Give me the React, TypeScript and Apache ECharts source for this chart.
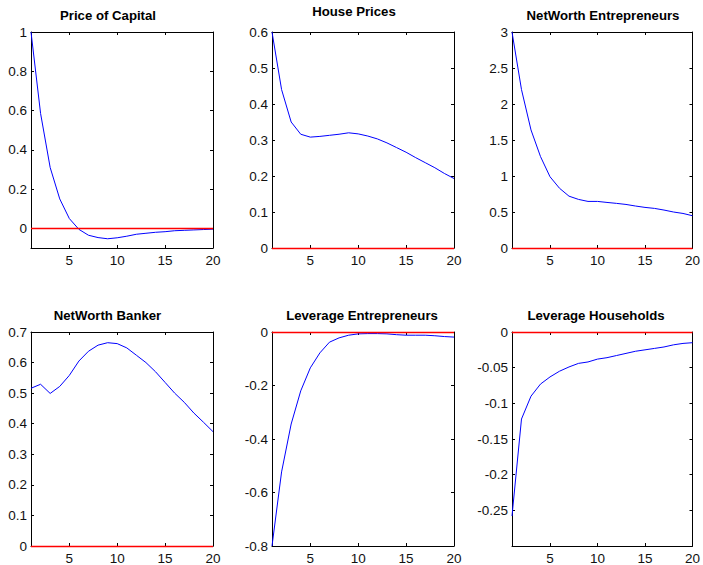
import React, { useEffect, useRef } from "react";
import * as echarts from "echarts";

const periods = [1, 2, 3, 4, 5, 6, 7, 8, 9, 10, 11, 12, 13, 14, 15, 16, 17, 18, 19, 20];

const priceOfCapital = [1.0, 0.585, 0.31, 0.15, 0.05, -0.005, -0.035, -0.047, -0.053, -0.048, -0.04, -0.03, -0.025, -0.02, -0.017, -0.012, -0.01, -0.008, -0.006, -0.004];
const housePrices = [0.6, 0.44, 0.35, 0.316, 0.308, 0.31, 0.313, 0.316, 0.32, 0.317, 0.311, 0.303, 0.292, 0.279, 0.266, 0.251, 0.237, 0.223, 0.207, 0.193];
const netWorthEntrepreneurs = [3.0, 2.2, 1.64, 1.27, 0.99, 0.83, 0.72, 0.675, 0.647, 0.647, 0.633, 0.62, 0.605, 0.583, 0.564, 0.55, 0.527, 0.5, 0.48, 0.448];
const netWorthBanker = [0.516, 0.529, 0.499, 0.522, 0.558, 0.605, 0.637, 0.657, 0.665, 0.662, 0.648, 0.624, 0.6, 0.57, 0.535, 0.5, 0.47, 0.435, 0.405, 0.374];
const leverageEntrepreneurs = [-0.8, -0.523, -0.344, -0.22, -0.134, -0.078, -0.038, -0.022, -0.012, -0.007, -0.006, -0.006, -0.007, -0.01, -0.012, -0.012, -0.012, -0.014, -0.017, -0.019];
const leverageHouseholds = [-0.258, -0.122, -0.09, -0.073, -0.063, -0.055, -0.049, -0.044, -0.042, -0.038, -0.036, -0.033, -0.03, -0.027, -0.025, -0.023, -0.021, -0.018, -0.016, -0.015];

const xTicks = [5, 10, 15, 20];
const yTicksPrice = [0, 0.2, 0.4, 0.6, 0.8, 1];
const yTicksHouse = [0, 0.1, 0.2, 0.3, 0.4, 0.5, 0.6];
const yTicksNWE = [0, 0.5, 1, 1.5, 2, 2.5, 3];
const yTicksNWB = [0, 0.1, 0.2, 0.3, 0.4, 0.5, 0.6, 0.7];
const yTicksLevE = [-0.8, -0.6, -0.4, -0.2, 0];
const yTicksLevH = [-0.25, -0.2, -0.15, -0.1, -0.05, 0];

const titles = [
  "Price of Capital",
  "House Prices",
  "NetWorth Entrepreneurs",
  "NetWorth Banker",
  "Leverage Entrepreneurs",
  "Leverage Households",
];

const panels = [
  { data: priceOfCapital, ticks: yTicksPrice, min: -0.1, max: 1 },
  { data: housePrices, ticks: yTicksHouse, min: 0, max: 0.6 },
  { data: netWorthEntrepreneurs, ticks: yTicksNWE, min: 0, max: 3 },
  { data: netWorthBanker, ticks: yTicksNWB, min: 0, max: 0.7 },
  { data: leverageEntrepreneurs, ticks: yTicksLevE, min: -0.8, max: 0 },
  { data: leverageHouseholds, ticks: yTicksLevH, min: -0.3, max: 0 },
];

const gridBoxes = [
  { left: 31, top: 32 },
  { left: 272, top: 32 },
  { left: 512, top: 32 },
  { left: 31, top: 332 },
  { left: 272, top: 332 },
  { left: 512, top: 332 },
];
const titlePos = [
  { x: 108, y: 9 },
  { x: 354, y: 5 },
  { x: 603, y: 9 },
  { x: 107.5, y: 309 },
  { x: 362, y: 309 },
  { x: 596, y: 309 },
];

export default function App() {
  const ref = useRef<HTMLDivElement>(null);
  useEffect(() => {
    if (!ref.current) return;
    const chart = echarts.init(ref.current, undefined, { renderer: "svg" });
    const font = "Arial, 'Liberation Sans', sans-serif";
    const axisLine = { show: true, onZero: false, lineStyle: { color: "#000", width: 1 } };
    const grids: any[] = [];
    const xAxes: any[] = [];
    const yAxes: any[] = [];
    const series: any[] = [];
    panels.forEach((p, i) => {
      grids.push({ left: gridBoxes[i].left, top: gridBoxes[i].top, width: 182, height: 216, show: false });
      const xBase = {
        type: "value",
        gridIndex: i,
        min: 1,
        max: 20,
        splitLine: { show: false },
        axisLine,
        axisTick: { show: true, inside: true, length: 3, customValues: xTicks, lineStyle: { color: "#000" } },
      };
      xAxes.push({
        ...xBase,
        position: "bottom",
        axisLabel: { show: true, customValues: xTicks, margin: 5, fontSize: 13.5, color: "#111", fontFamily: font },
      });
      xAxes.push({ ...xBase, position: "top", axisLabel: { show: false } });
      const yBase = {
        type: "value",
        gridIndex: i,
        min: p.min,
        max: p.max,
        splitLine: { show: false },
        axisLine,
        axisTick: { show: true, inside: true, length: 3, customValues: p.ticks, lineStyle: { color: "#000" } },
      };
      yAxes.push({
        ...yBase,
        position: "left",
        axisLabel: { show: true, customValues: p.ticks, margin: 4, fontSize: 13.5, color: "#111", fontFamily: font },
      });
      yAxes.push({ ...yBase, position: "right", axisLabel: { show: false } });
      series.push({
        type: "line",
        xAxisIndex: i * 2,
        yAxisIndex: i * 2,
        data: periods.map((x, k) => [x, p.data[k]]),
        symbol: "none",
        lineStyle: { color: "#0000ff", width: 1 },
        z: 3,
        markLine: {
          silent: true,
          symbol: ["none", "none"],
          label: { show: false },
          lineStyle: { color: "#ff0000", width: 1.3, type: "solid" },
          data: [{ yAxis: 0 }],
          z: 4,
        },
      });
    });
    chart.setOption({
      animation: false,
      backgroundColor: "#fff",
      grid: grids,
      xAxis: xAxes,
      yAxis: yAxes,
      series,
      graphic: titles.map((t, i) => ({
        type: "text",
        x: titlePos[i].x,
        y: titlePos[i].y,
        style: {
          text: t,
          textAlign: "center",
          textVerticalAlign: "top",
          font: `bold 13.2px ${font}`,
          fill: "#000",
        },
      })),
    });
    return () => chart.dispose();
  }, []);
  return (
    <div
      ref={ref}
      style={{ position: "fixed", left: 0, top: 0, width: 703, height: 565, background: "#fff" }}
    />
  );
}
